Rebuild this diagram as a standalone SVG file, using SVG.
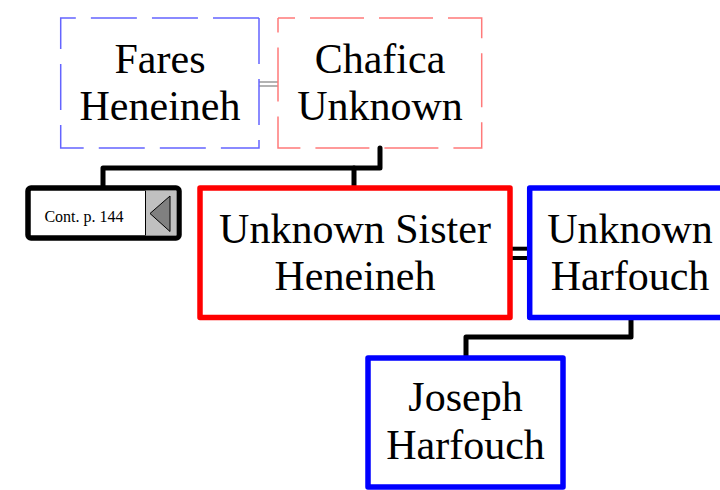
<svg xmlns="http://www.w3.org/2000/svg" width="720" height="490" viewBox="0 0 720 490">
<style>
.name{font-family:"Liberation Serif","Times New Roman",serif;font-size:42px;fill:#000;text-anchor:middle}
.small{font-family:"Liberation Serif","Times New Roman",serif;font-size:16px;fill:#000;text-anchor:middle}
.dash{fill:none;stroke-width:1.5}
.solid{fill:#fff;stroke-width:5.5;stroke-linejoin:round}
.conn{fill:none;stroke:#000;stroke-width:5;stroke-linejoin:round;stroke-linecap:round}
</style>
<rect width="720" height="490" fill="#fff"/>
<g id="connectors">
<line x1="259" y1="82" x2="278" y2="82" stroke="#808080" stroke-width="1.2"/>
<line x1="259" y1="86" x2="278" y2="86" stroke="#808080" stroke-width="1.2"/>
<path class="conn" d="M380,148 V168 H103 V186"/>
<path class="conn" d="M354,168 V187"/>
<line x1="510" y1="248.7" x2="530" y2="248.7" stroke="#000" stroke-width="4"/>
<line x1="510" y1="258" x2="530" y2="258" stroke="#000" stroke-width="4"/>
<path class="conn" d="M631,317 V337 H466 V358"/>
</g>
<g id="fares">
<path class="dash" d="M259,18 V148 H60.7 V18 H259" stroke="#6464ff" stroke-dasharray="46 15.06"/>
<text class="name" x="160" y="73">Fares</text>
<text class="name" x="160" y="120">Heneineh</text>
</g>
<g id="chafica">
<path class="dash" d="M278,18 H481.7 V148 H278 V18" stroke="#ff7a7a" stroke-dasharray="54 15" stroke-dashoffset="37"/>
<text class="name" x="380" y="73">Chafica</text>
<text class="name" x="380" y="120">Unknown</text>
</g>
<g id="cont">
<rect x="28" y="188" width="151" height="50" rx="3" fill="#fff" stroke="#000" stroke-width="5.5"/>
<rect x="145" y="190.5" width="31.5" height="45" fill="#c0c0c0" stroke="none"/>
<line x1="145.5" y1="190.5" x2="145.5" y2="235.5" stroke="#000" stroke-width="1"/>
<polygon points="150,213.5 170,196 170,231.5" fill="#808080" stroke="#000" stroke-width="1"/>
<text class="small" x="84" y="221.5">Cont. p. 144</text>
</g>
<g id="sister">
<rect class="solid" x="200" y="188" width="310" height="129.5" stroke="#ff0000"/>
<text class="name" x="355" y="242.5">Unknown Sister</text>
<text class="name" x="355" y="289.5">Heneineh</text>
</g>
<g id="harfouch">
<rect class="solid" x="529.7" y="188" width="200" height="129.5" stroke="#0000ff"/>
<text class="name" x="630" y="242.5">Unknown</text>
<text class="name" x="630" y="289.5">Harfouch</text>
</g>
<g id="joseph">
<rect class="solid" x="368" y="358" width="195" height="129" stroke="#0000ff"/>
<text class="name" x="465.5" y="411">Joseph</text>
<text class="name" x="465.5" y="459">Harfouch</text>
</g>
</svg>
